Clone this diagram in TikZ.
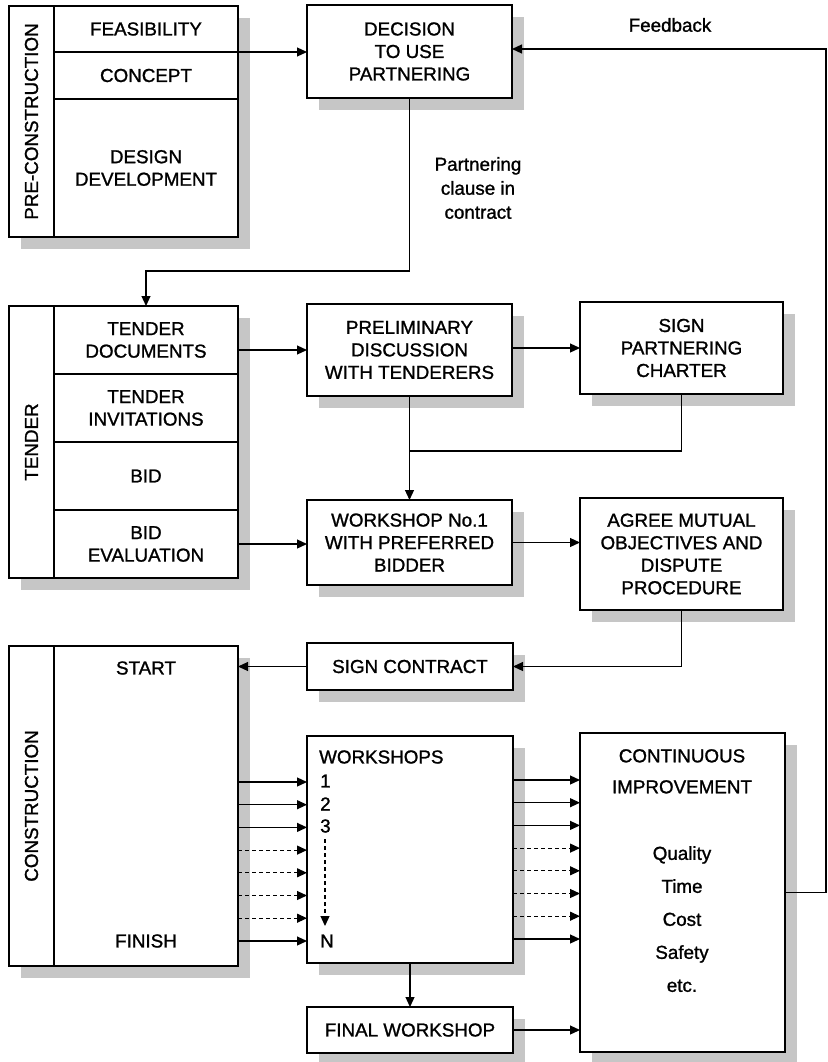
\documentclass[tikz,border=0pt]{standalone}
\usepackage{fontspec}
\setmainfont{Liberation Sans}[FakeBold=1.2,AutoFakeBold=1.2]
\newfontfamily\labelfont{Liberation Sans}[FakeBold=1.2]
\usetikzlibrary{arrows.meta,shadows}
\begin{document}
\begin{tikzpicture}[x=1pt,y=-1pt,
  txt/.style={font=\fontsize{18.8}{22.5}\selectfont\bfseries, align=center, inner sep=0pt},
  boxframe/.style={draw, line width=1.8pt, fill=white, outer sep=0pt, inner sep=0pt, anchor=north west, txt},
  shadowed/.style={drop shadow={shadow xshift=12pt, shadow yshift=-12pt, fill=gray!45, opacity=1}},
  boxcell/.style={draw, line width=1.5pt, outer sep=0pt, inner sep=0pt, anchor=north west, txt},
  conn/.style={line width=1.2pt, -{Triangle[length=10pt,width=9pt]}},
  plainline/.style={line width=1.2pt},
  dashconn/.style={conn, dash pattern=on 4pt off 3pt},
]
\fill[white] (0,0) rectangle (827,1062);
\useasboundingbox (0,0) rectangle (827,1062);

% ---------- Pre-construction ----------
\node[boxframe,shadowed,minimum width=229pt,minimum height=231pt] (pre) at (9,6) {};
\node[boxcell,minimum width=45pt,minimum height=231pt] (prelab) at (9,6) {};
\node[txt,rotate=90] (pretitle) at (prelab.center) {PRE-CONSTRUCTION};
\node[boxcell,minimum width=184pt,minimum height=46pt] (feas) at (54,6) {FEASIBILITY};
\node[boxcell,minimum width=184pt,minimum height=47pt] (concept) at (54,52) {CONCEPT};
\node[boxcell,minimum width=184pt,minimum height=138pt] (design) at (54,99) {DESIGN\\DEVELOPMENT};

\node[boxframe,shadowed,minimum width=205pt,minimum height=93pt] (dec) at (307,5) {DECISION\\TO USE\\PARTNERING};

\node[txt] (fbtext) at (670,25) {Feedback};
\node[txt,font=\fontsize{18.8}{24}\selectfont\bfseries] (clause) at (478,188) {Partnering\\clause in\\contract};

% ---------- Tender ----------
\node[boxframe,shadowed,minimum width=229pt,minimum height=272pt] (tender) at (9,306) {};
\node[boxcell,minimum width=45pt,minimum height=272pt] (tenlab) at (9,306) {};
\node[txt,rotate=90] (tentitle) at (tenlab.center) {TENDER};
\node[boxcell,minimum width=184pt,minimum height=68pt] (docs) at (54,306) {TENDER\\DOCUMENTS};
\node[boxcell,minimum width=184pt,minimum height=68pt] (invit) at (54,374) {TENDER\\INVITATIONS};
\node[boxcell,minimum width=184pt,minimum height=68pt] (bid) at (54,442) {BID};
\node[boxcell,minimum width=184pt,minimum height=68pt] (evalbid) at (54,510) {BID\\EVALUATION};

\node[boxframe,shadowed,minimum width=205pt,minimum height=92pt] (prelim) at (307,304) {PRELIMINARY\\DISCUSSION\\WITH TENDERERS};
\node[boxframe,shadowed,minimum width=203pt,minimum height=92pt] (charter) at (580,302) {SIGN\\PARTNERING\\CHARTER};
\node[boxframe,shadowed,minimum width=205pt,minimum height=85pt] (ws1) at (307,500) {WORKSHOP No.1\\WITH PREFERRED\\BIDDER};
\node[boxframe,shadowed,minimum width=203pt,minimum height=112pt] (agree) at (580,498) {AGREE MUTUAL\\OBJECTIVES AND\\DISPUTE\\PROCEDURE};

% ---------- Construction ----------
\node[boxframe,shadowed,minimum width=206pt,minimum height=47pt] (signc) at (307,643) {SIGN CONTRACT};

\node[boxframe,shadowed,minimum width=229pt,minimum height=320pt] (constr) at (9,646) {};
\node[boxcell,minimum width=45pt,minimum height=320pt] (conlab) at (9,646) {};
\node[txt,rotate=90] (contitle) at (conlab.center) {CONSTRUCTION};
\node[boxcell,minimum width=184pt,minimum height=320pt] (conmain) at (54,646) {};
\node[txt] (start) at (146,668) {START};
\node[txt] (finish) at (146,941) {FINISH};

\node[boxframe,shadowed,minimum width=206pt,minimum height=227pt] (wsh) at (307,736) {};
\node[txt,anchor=west] (wshtitle) at (319,757) {WORKSHOPS};
\node[txt,anchor=west] (wsa) at (320,781) {1};
\node[txt,anchor=west] (wsb) at (320,804) {2};
\node[txt,anchor=west] (wsc) at (320,826) {3};
\node[txt,anchor=west] (wsn) at (320,941) {N};
\coordinate (dotstop) at (325,839);
\coordinate (dotsbot) at (325,926);

\node[boxframe,shadowed,minimum width=205pt,minimum height=319pt] (ci) at (580,733) {};
\node[txt,font=\fontsize{18.8}{31}\selectfont\bfseries,anchor=north] (cititle) at (682,749) {CONTINUOUS\\IMPROVEMENT};
\node[txt,font=\fontsize{18.8}{33}\selectfont\bfseries,anchor=north] (cilist) at (682,846) {Quality\\Time\\Cost\\Safety\\etc.};

\node[boxframe,shadowed,minimum width=206pt,minimum height=46pt] (final) at (307,1007) {FINAL WORKSHOP};

% ---------- Connectors ----------
\draw[conn] (feas.south east) -- (feas.south east -| dec.west);
\coordinate (fbcorner) at (826,49);
\draw[conn] (ci.east) -| (fbcorner) -- (fbcorner -| dec.east);
\coordinate (clauseturn) at (146,271);
\draw[conn] (dec.south) |- (clauseturn) -- (docs.north);

\draw[conn] (docs.east |- prelim.west) -- (prelim.west);
\draw[conn] (prelim.east |- charter.west) -- (charter.west);
\draw[conn] (prelim.south) -- (ws1.north);
\coordinate (join) at (409.5,451);
\draw[plainline] (charter.south) |- (join);
\draw[conn] (evalbid.east |- 0,544) -- (ws1.west |- 0,544);
\draw[conn] (ws1.east) -- (ws1.east -| agree.west);

\draw[conn] (agree.south) |- (signc.east);
\draw[conn] (signc.west) -- (signc.west -| conmain.east);

\foreach \y/\st in {782/conn, 804.7/conn, 827.4/conn, 850.1/dashconn, 872.8/dashconn, 895.5/dashconn, 918.2/dashconn, 941/conn}{
  \draw[\st] (conmain.east |- 0,\y) -- (wsh.west |- 0,\y);
  \draw[\st] (wsh.east |- 0,\y-2) -- (ci.west |- 0,\y-2);
}
\draw[dashconn] (dotstop) -- (dotsbot);

\draw[conn] (wsh.south) -- (final.north);
\draw[conn] (final.east) -- (final.east -| ci.west);
\end{tikzpicture}
\end{document}
